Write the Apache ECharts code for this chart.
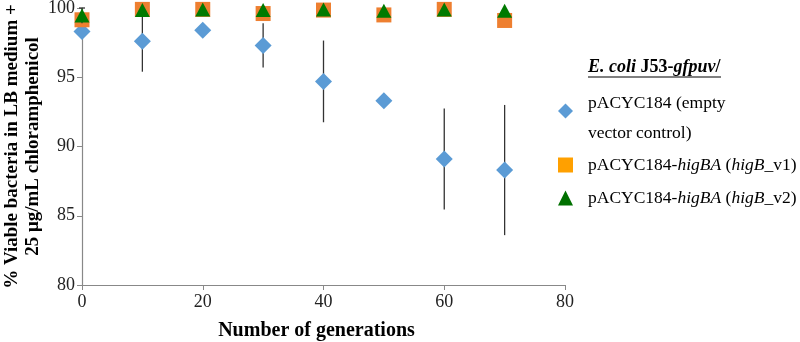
<!DOCTYPE html>
<html>
<head>
<meta charset="utf-8">
<script src="https://cdn.jsdelivr.net/npm/echarts@6/dist/echarts.min.js"></script>
<style>
html,body{margin:0;padding:0;background:#fff;}
#chart{width:800px;height:342px;}
</style>
</head>
<body>
<div id="chart"></div>
<script>
const generations = [0, 10, 20, 30, 40, 50, 60, 70];
const emptyVector = [98.3, 97.6, 98.4, 97.3, 94.7, 93.3, 89.1, 88.3];
const emptyVectorErr = [0, 2.2, 0, 1.6, 2.95, 0, 3.65, 4.7];
const higBv1 = [99.15, 99.9, 99.9, 99.6, 99.85, 99.5, 99.9, 99.1];
const higBv2 = [99.45, 99.85, 99.9, 99.85, 99.9, 99.8, 99.9, 99.8];
const higBv2Err = [0.55, 0, 0, 0, 0, 0, 0, 0];
const xTicks = [0, 20, 40, 60, 80];
const yTicks = [80, 85, 90, 95, 100];
const seriesNames = ['pACYC184 (empty vector control)', 'pACYC184-higBA (higB_v1)', 'pACYC184-higBA (higB_v2)'];

const FONT = '"Liberation Serif", "Times New Roman", serif';
const LF = 17.5;

function pairs(ys) { return generations.map((x, i) => [x, ys[i]]); }
function errTriples(ys, es) {
  return generations.map((x, i) => [x, ys[i], es[i]]).filter(d => d[2] > 0);
}
function errRender(cap) {
  return function (params, api) {
    const x = api.value(0), y = api.value(1), e = api.value(2);
    const lo = api.coord([x, y - e]);
    const hi = api.coord([x, y + e]);
    const children = [{
      type: 'line',
      shape: { x1: lo[0], y1: lo[1], x2: hi[0], y2: hi[1] },
      style: { stroke: '#333', lineWidth: 1.3 }
    }];
    if (cap) {
      children.push({ type: 'line', shape: { x1: hi[0] - 3, y1: hi[1], x2: hi[0] + 3, y2: hi[1] }, style: { stroke: '#333', lineWidth: 1.3 } });
    }
    return { type: 'group', children: children };
  };
}

const chart = echarts.init(document.getElementById('chart'), null, { renderer: 'canvas' });
chart.setOption({
  animation: false,
  backgroundColor: '#fff',
  textStyle: { fontFamily: FONT },
  grid: { left: 82, right: 235, top: 8, bottom: 57, outerBoundsMode: 'none', containLabel: false },
  xAxis: {
    type: 'value', min: xTicks[0], max: xTicks[xTicks.length - 1], interval: 20,
    name: 'Number of generations', nameLocation: 'middle', nameGap: 36,
    nameTextStyle: { fontFamily: FONT, fontWeight: 'bold', fontSize: 20, color: '#000', padding: [0, 14, 0, 0] },
    axisLine: { lineStyle: { color: '#888', width: 1.2 } },
    axisTick: { show: true, length: 5, lineStyle: { color: '#888' } },
    axisLabel: { fontFamily: FONT, fontSize: 18, color: '#222', margin: 8 },
    splitLine: { show: false }
  },
  yAxis: {
    type: 'value', min: yTicks[0], max: yTicks[yTicks.length - 1], interval: 5,
    name: '% Viable bacteria in LB medium +\n25 μg/mL chloramphenicol',
    nameLocation: 'middle', nameRotate: 90, nameGap: 38, nameMoveOverlap: false,
    nameTextStyle: { fontFamily: FONT, fontWeight: 'bold', fontSize: 19, color: '#000', lineHeight: 21 },
    axisLine: { show: true, lineStyle: { color: '#888', width: 1.2 } },
    axisTick: { show: true, length: 5, lineStyle: { color: '#888' } },
    axisLabel: { fontFamily: FONT, fontSize: 18, color: '#222', margin: 7 },
    splitLine: { show: false }
  },
  legend: {
    orient: 'vertical', left: 558, top: 81, padding: 0, itemGap: 13,
    itemWidth: 15, itemHeight: 15,
    data: [
      { name: seriesNames[0], icon: 'diamond', itemStyle: { color: '#5B9BD5' } },
      { name: seriesNames[1], icon: 'rect', itemStyle: { color: '#FFA000' } },
      { name: seriesNames[2], icon: 'triangle', itemStyle: { color: '#007000' } }
    ],
    formatter: function (name) {
      if (name === seriesNames[0]) return '{a|pACYC184 (empty}\n{b|vector control)}';
      if (name === seriesNames[1]) return '{p|pACYC184-}{i|higBA} ({i|higB}_v1)';
      return '{p|pACYC184-}{i|higBA} ({i|higB}_v2)';
    },
    textStyle: {
      fontFamily: FONT, fontSize: LF, color: '#000', lineHeight: 20,
      rich: {
        a: { fontFamily: FONT, fontSize: LF, lineHeight: 44, color: '#000', padding: [0, 0, 0, 10] },
        b: { fontFamily: FONT, fontSize: LF, lineHeight: 16, color: '#000', padding: [0, 0, 0, 10] },
        p: { fontFamily: FONT, fontSize: LF, lineHeight: 20, color: '#000', padding: [0, 0, 0, 10] },
        i: { fontFamily: FONT, fontSize: LF, fontStyle: 'italic', lineHeight: 20, color: '#000' }
      }
    }
  },
  graphic: [
    {
      type: 'text', left: 588, top: 58, silent: true,
      style: {
        text: '{bi|E. coli} {b|J53-}{bi|gfpuv}{b|/}',
        font: 'bold 18px ' + FONT, fill: '#000',
        rich: {
          bi: { fontFamily: FONT, fontSize: 18, fontWeight: 'bold', fontStyle: 'italic', fill: '#000' },
          b: { fontFamily: FONT, fontSize: 18, fontWeight: 'bold', fill: '#000' }
        }
      }
    },
    {
      type: 'line', silent: true,
      shape: { x1: 588, y1: 77, x2: 721, y2: 77 },
      style: { stroke: '#000', lineWidth: 1.2 }
    }
  ],
  series: [
    {
      type: 'custom', name: 'emptyErr', renderItem: errRender(false), silent: true,
      data: errTriples(emptyVector, emptyVectorErr), z: 1,
      encode: { x: 0, y: 1 }
    },
    {
      type: 'scatter', name: seriesNames[0], data: pairs(emptyVector),
      symbol: 'diamond', symbolSize: [17, 17], itemStyle: { color: '#5B9BD5', opacity: 1 }, z: 2
    },
    {
      type: 'scatter', name: seriesNames[1], data: pairs(higBv1),
      symbol: 'rect', symbolSize: [15, 15], itemStyle: { color: '#EE7F30', opacity: 1 }, z: 3
    },
    {
      type: 'custom', name: 'v2Err', renderItem: errRender(true), silent: true,
      data: errTriples(higBv2, higBv2Err), z: 4,
      encode: { x: 0, y: 1 }
    },
    {
      type: 'scatter', name: seriesNames[2], data: pairs(higBv2),
      symbol: 'triangle', symbolSize: [15, 14], itemStyle: { color: '#007A00', opacity: 1 }, z: 5
    }
  ]
});
</script>
</body>
</html>
